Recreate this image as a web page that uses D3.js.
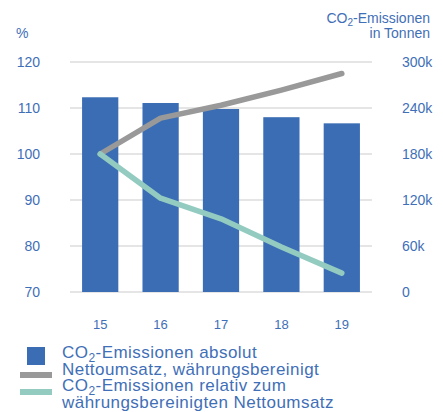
<!DOCTYPE html>
<html><head><meta charset="utf-8">
<script src="https://cdn.jsdelivr.net/npm/d3@7"></script>
<style>body{margin:0;background:#fff}text{font-family:"Liberation Sans",Arial,sans-serif}</style>
</head><body>
<svg id="c" width="443" height="412"></svg>
<script>
const years = ["15","16","17","18","19"];
const co2Absolut = [254000, 246500, 238700, 228000, 220000];
const nettoumsatz = [100, 107.8, 110.6, 113.9, 117.5];
const co2Relativ = [100, 90.4, 85.9, 79.8, 74.1];
const leftTicks = [70, 80, 90, 100, 110, 120];
const rightTicks = [0, 60000, 120000, 180000, 240000, 300000];

const blue = "#3a6db4", textBlue = "#3f6fb7", gray = "#999999", teal = "#93cbc1", grid = "#e5e5e5";
const svg = d3.select("#c");
const x = d3.scaleBand().domain(years).range([70, 372]).paddingInner(0.4).paddingOuter(0.2);
const yL = d3.scaleLinear().domain([70, 120]).range([292, 62]);
const yR = d3.scaleLinear().domain([0, 300000]).range([292, 62]);

// grid
svg.append("g").selectAll("line").data(leftTicks).join("line")
  .attr("x1", 70).attr("x2", 372).attr("y1", d => yL(d)).attr("y2", d => yL(d))
  .attr("stroke", grid).attr("stroke-width", 2);

// bars
svg.append("g").selectAll("rect").data(co2Absolut).join("rect")
  .attr("x", (d, i) => x(years[i])).attr("width", x.bandwidth())
  .attr("y", d => yR(d)).attr("height", d => yR(0) - yR(d)).attr("fill", blue);

// lines
const line = d3.line().x((d, i) => x(years[i]) + x.bandwidth() / 2).y(d => yL(d));
svg.append("path").datum(nettoumsatz).attr("d", line).attr("fill", "none")
  .attr("stroke", gray).attr("stroke-width", 5.5).attr("stroke-linecap", "round").attr("stroke-linejoin", "round");
svg.append("path").datum(co2Relativ).attr("d", line).attr("fill", "none")
  .attr("stroke", teal).attr("stroke-width", 5.5).attr("stroke-linecap", "round").attr("stroke-linejoin", "round");

// left axis
const axL = d3.axisLeft(yL).tickValues(leftTicks).tickSize(0).tickPadding(0);
const gL = svg.append("g").attr("transform", "translate(40,0)").call(axL);
gL.select(".domain").remove();
gL.selectAll("text").attr("fill", textBlue).style("font-size", "14px").attr("font-family", "Liberation Sans, Arial, sans-serif");

// right axis
const axR = d3.axisRight(yR).tickValues(rightTicks).tickSize(0).tickPadding(0)
  .tickFormat(d => d === 0 ? "0" : (d / 1000) + "k");
const gR = svg.append("g").attr("transform", "translate(402,0)").call(axR);
gR.select(".domain").remove();
gR.selectAll("text").attr("fill", textBlue).style("font-size", "14px").attr("font-family", "Liberation Sans, Arial, sans-serif");

// x axis
const axX = d3.axisBottom(x).tickSize(0).tickPadding(0);
const gX = svg.append("g").attr("transform", "translate(0,320)").call(axX);
gX.select(".domain").remove();
gX.selectAll("text").attr("fill", textBlue).style("font-size", "13px").attr("dy", "0.71em").attr("font-family", "Liberation Sans, Arial, sans-serif");

// axis titles
svg.append("text").attr("x", 16).attr("y", 38).attr("fill", textBlue).style("font-size", "14px").text("%");
const t1 = svg.append("text").attr("x", 430).attr("y", 23).attr("text-anchor", "end").attr("fill", textBlue).style("font-size", "14px");
t1.append("tspan").text("CO");
t1.append("tspan").text("2").style("font-size", "10px").attr("dy", 3);
t1.append("tspan").text("-Emissionen").attr("dy", -3);
svg.append("text").attr("x", 430).attr("y", 38).attr("text-anchor", "end").attr("fill", textBlue).style("font-size", "14px").text("in Tonnen");

// legend
const lg = svg.append("g");
lg.append("rect").attr("x", 27).attr("y", 347).attr("width", 18).attr("height", 18).attr("fill", blue);
lg.append("line").attr("x1", 20).attr("x2", 52).attr("y1", 375).attr("y2", 375).attr("stroke", gray).attr("stroke-width", 6);
lg.append("line").attr("x1", 20).attr("x2", 52).attr("y1", 392).attr("y2", 392).attr("stroke", teal).attr("stroke-width", 6);
function co2Text(y, rest) {
  const t = lg.append("text").attr("x", 62).attr("y", y).attr("fill", textBlue).style("font-size", "17px").style("letter-spacing", "0.45px");
  t.append("tspan").text("CO");
  t.append("tspan").text("2").style("font-size", "12px").attr("dy", 4);
  t.append("tspan").text(rest).attr("dy", -4);
}
co2Text(358, "-Emissionen absolut");
lg.append("text").attr("x", 62).attr("y", 375).attr("fill", textBlue).style("font-size", "17px").style("letter-spacing", "0.45px").text("Nettoumsatz, währungsbereinigt");
co2Text(391, "-Emissionen relativ zum");
lg.append("text").attr("x", 62).attr("y", 408).attr("fill", textBlue).style("font-size", "17px").style("letter-spacing", "0.45px").text("währungsbereinigten Nettoumsatz");
</script>
</body></html>
